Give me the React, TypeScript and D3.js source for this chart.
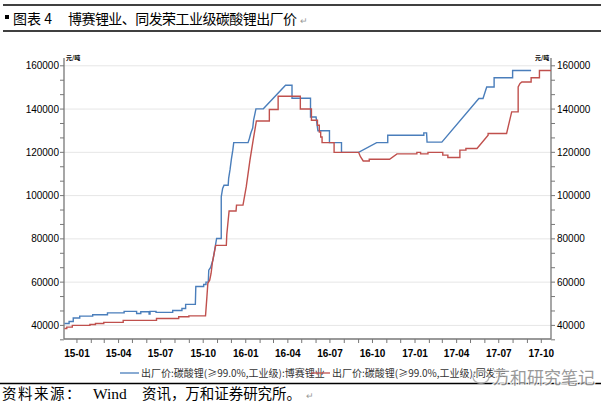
import React from "react";
import * as d3 from "d3";

const TITLE = "图表 4";
const TITLE_TEXT = "博赛锂业、同发荣工业级碳酸锂出厂价";
const SOURCE_PARTS = ["资料来源：", "Wind", "资讯，万和证券研究所。"];
const UNIT = "元/吨";
const SERIES_NAMES = [
  "出厂价:碳酸锂(≥99.0%,工业级):博赛锂业",
  "出厂价:碳酸锂(≥99.0%,工业级):同发荣",
];
const Y_TICKS = [40000, 60000, 80000, 100000, 120000, 140000, 160000];
const X_LABELS = ["15-01", "15-04", "15-07", "15-10", "16-01", "16-04", "16-07", "16-10", "17-01", "17-04", "17-07", "17-10"];

const BOSAI: [string, number][] = [
  ["2014-12-05", 40900], ["2014-12-15", 40900], ["2014-12-15", 41800], ["2014-12-24", 41800],
  ["2014-12-24", 43400], ["2015-01-07", 43400], ["2015-01-07", 44300], ["2015-02-04", 44300],
  ["2015-02-04", 44900], ["2015-03-08", 44900], ["2015-03-08", 45800], ["2015-04-13", 45800],
  ["2015-04-13", 46500], ["2015-05-10", 46500], ["2015-05-10", 45500], ["2015-05-19", 45500],
  ["2015-05-19", 46300], ["2015-06-06", 46300], ["2015-06-06", 45200], ["2015-06-08", 45200],
  ["2015-06-08", 46500], ["2015-06-21", 46500], ["2015-06-21", 46000], ["2015-07-27", 46000],
  ["2015-07-27", 46900], ["2015-08-16", 46900], ["2015-08-16", 47800], ["2015-08-24", 47800],
  ["2015-08-24", 49700], ["2015-09-14", 49700], ["2015-09-15", 58000], ["2015-10-02", 58000],
  ["2015-10-02", 58900], ["2015-10-07", 58900], ["2015-10-07", 60000], ["2015-10-12", 60000],
  ["2015-10-13", 65500], ["2015-10-17", 66800], ["2015-10-22", 70200], ["2015-10-26", 75100],
  ["2015-10-30", 80200], ["2015-11-09", 80200], ["2015-11-09", 99400], ["2015-11-12", 103300],
  ["2015-11-15", 104800], ["2015-11-24", 104800], ["2015-11-25", 108000], ["2015-11-28", 112000],
  ["2015-12-01", 117000], ["2015-12-04", 121000], ["2015-12-06", 124500], ["2016-01-06", 124500],
  ["2016-01-09", 126500], ["2016-01-12", 128900], ["2016-01-16", 131200], ["2016-01-18", 135000],
  ["2016-01-20", 137000], ["2016-01-23", 140100], ["2016-02-08", 140100], ["2016-03-27", 151000],
  ["2016-04-10", 151000], ["2016-04-10", 145000], ["2016-05-20", 145000], ["2016-05-20", 136300],
  ["2016-06-01", 136300], ["2016-06-05", 130000], ["2016-06-30", 130000], ["2016-06-30", 124500],
  ["2016-07-26", 124500], ["2016-07-26", 120000], ["2016-09-01", 120000], ["2016-10-10", 124500],
  ["2016-11-03", 124500], ["2016-11-03", 127900], ["2017-01-20", 127900], ["2017-01-20", 129000],
  ["2017-01-26", 129000], ["2017-01-27", 124700], ["2017-02-28", 124700], ["2017-05-19", 144900],
  ["2017-05-28", 144900], ["2017-06-01", 147500], ["2017-06-05", 150200], ["2017-06-21", 150200],
  ["2017-06-21", 154500], ["2017-07-31", 154500], ["2017-07-31", 157800], ["2017-09-09", 157800],
];

const TONGFARONG: [string, number][] = [
  ["2014-12-05", 38600], ["2014-12-10", 38600], ["2014-12-10", 39200], ["2014-12-22", 39200],
  ["2014-12-22", 40000], ["2015-01-29", 40000], ["2015-01-29", 40400], ["2015-02-10", 40400],
  ["2015-02-10", 40900], ["2015-02-28", 40900], ["2015-02-28", 41400], ["2015-04-11", 41400],
  ["2015-04-11", 42300], ["2015-06-22", 42300], ["2015-06-22", 43200], ["2015-08-09", 43200],
  ["2015-08-09", 44000], ["2015-08-31", 44000], ["2015-08-31", 44400], ["2015-10-06", 44400],
  ["2015-10-09", 53200], ["2015-10-11", 59400], ["2015-10-15", 60900], ["2015-10-18", 64000],
  ["2015-10-21", 69200], ["2015-10-28", 77000], ["2015-11-20", 77000], ["2015-11-21", 82000],
  ["2015-11-24", 88600], ["2015-11-26", 92900], ["2015-12-11", 92900], ["2015-12-12", 95600],
  ["2015-12-26", 95600], ["2016-01-02", 104000], ["2016-01-10", 116300], ["2016-01-17", 125600],
  ["2016-01-24", 134500], ["2016-02-21", 134500], ["2016-02-21", 139800], ["2016-03-11", 139800],
  ["2016-03-11", 145900], ["2016-04-28", 145900], ["2016-04-28", 140000], ["2016-05-22", 140000],
  ["2016-05-22", 134800], ["2016-06-04", 134800], ["2016-06-04", 132500], ["2016-06-08", 132500],
  ["2016-06-08", 129400], ["2016-06-11", 129400], ["2016-06-11", 127100], ["2016-06-14", 127100],
  ["2016-06-14", 124500], ["2016-07-10", 124500], ["2016-07-10", 120000], ["2016-09-01", 120000],
  ["2016-09-05", 118000], ["2016-09-11", 116000], ["2016-09-24", 116000], ["2016-09-24", 116800],
  ["2016-11-07", 116800], ["2016-11-23", 119300], ["2017-01-05", 119300], ["2017-01-05", 120000],
  ["2017-01-13", 120000], ["2017-01-13", 119300], ["2017-01-29", 119300], ["2017-01-29", 120000],
  ["2017-03-02", 120000], ["2017-03-02", 118700], ["2017-03-13", 118700], ["2017-03-13", 117600],
  ["2017-04-08", 117600], ["2017-04-08", 121000], ["2017-04-21", 121000], ["2017-04-21", 121800],
  ["2017-05-15", 121800], ["2017-06-08", 127900], ["2017-06-08", 128700], ["2017-07-18", 128700],
  ["2017-07-29", 138700], ["2017-08-12", 138700], ["2017-08-12", 150200], ["2017-08-16", 151800],
  ["2017-08-20", 152500], ["2017-09-09", 152500], ["2017-09-09", 154500], ["2017-09-27", 154500],
  ["2017-09-27", 157800], ["2017-10-22", 157800],
];

const COLORS = ["#4a7ebb", "#c0504d"];

const parse = d3.timeParse("%Y-%m-%d");

export default function App() {
  const W = 601, H = 406;
  const left = 64, right = 551, axTop = 58, axBottom = 339;
  const x = d3.scaleTime()
    .domain([parse("2014-12-04")!, parse("2017-10-22")!])
    .range([left, right]);
  const y = d3.scaleLinear().domain([40000, 160000]).range([325.4, 65.8]);

  const line = d3.line<[string, number]>()
    .x((d) => x(parse(d[0])!))
    .y((d) => y(d[1]));

  const months = d3.timeMonth.range(parse("2015-01-01")!, parse("2017-10-02")!);
  const quarterDates = X_LABELS.map((l) => parse(`20${l}-01`)!);

  const minorStep = 20000 / 3;
  const minorTicks: number[] = [];
  for (let v = 40000 - minorStep; v <= 160000 + 1; v += minorStep) minorTicks.push(v);

  const axisColor = "#777";
  const numFont = "'Liberation Sans', Arial, sans-serif";
  const cjk = "'Noto Sans CJK SC', sans-serif";
  const serif = "'Liberation Serif', 'Times New Roman', serif";

  return (
    <svg width={W} height={H} style={{ position: "absolute", left: 0, top: 0, background: "#fff" }}>
      {/* title */}
      <line x1={3} x2={601} y1={5} y2={5} stroke="#000" strokeWidth={1.5} />
      <line x1={3} x2={601} y1={31} y2={31} stroke="#000" strokeWidth={1.5} />
      <rect x={5} y={15} width={4} height={4} fill="#000" />
      <text x={13} y={24} fontFamily={cjk} fontSize={14} fill="#000">{TITLE}</text>
      <text x={68} y={24} fontFamily={cjk} fontSize={14} textLength={229} lengthAdjust="spacing" fill="#000">{TITLE_TEXT}</text>
      <text x={300} y={24} fontFamily={cjk} fontSize={9} fill="#999">↵</text>

      {/* gridlines */}
      {Y_TICKS.map((v) => (
        <line key={"g" + v} x1={left} x2={right} y1={y(v)} y2={y(v)} stroke="#e6e6e6" strokeWidth={1} />
      ))}

      {/* axes */}
      <line x1={left} x2={left} y1={axTop} y2={axBottom} stroke={axisColor} strokeWidth={1.3} />
      <line x1={right} x2={right} y1={axTop} y2={axBottom} stroke={axisColor} strokeWidth={1.3} />
      <line x1={left} x2={right} y1={axBottom} y2={axBottom} stroke={axisColor} strokeWidth={1.3} />

      {minorTicks.map((v, i) => (
        <g key={"t" + i}>
          <line x1={left - 4} x2={left} y1={y(v)} y2={y(v)} stroke={axisColor} strokeWidth={1} />
          <line x1={right} x2={right + 4} y1={y(v)} y2={y(v)} stroke={axisColor} strokeWidth={1} />
        </g>
      ))}
      {Y_TICKS.map((v) => (
        <g key={"l" + v}>
          <text x={left - 5} y={y(v) + 3.5} textAnchor="end" fontFamily={numFont} fontSize={10} fill="#000">{v}</text>
          <text x={right + 6} y={y(v) + 3.5} textAnchor="start" fontFamily={numFont} fontSize={10} fill="#000">{v}</text>
        </g>
      ))}
      <text x={66} y={60} fontFamily={cjk} fontSize={6} fontWeight="bold" fill="#000">{UNIT}</text>
      <text x={535} y={60} fontFamily={cjk} fontSize={6} fontWeight="bold" fill="#000">{UNIT}</text>

      {months.map((d, i) => (
        <line key={"m" + i} x1={x(d)} x2={x(d)} y1={axBottom} y2={axBottom + 4} stroke={axisColor} strokeWidth={1} />
      ))}
      {quarterDates.map((d, i) => (
        <text key={"q" + i} x={x(d)} y={357} textAnchor="middle" fontFamily={numFont} fontSize={10} fontWeight="bold" fill="#000">
          {X_LABELS[i]}
        </text>
      ))}

      {/* series */}
      <path d={line(BOSAI) || ""} fill="none" stroke={COLORS[0]} strokeWidth={1.4} />
      <path d={line(TONGFARONG) || ""} fill="none" stroke={COLORS[1]} strokeWidth={1.4} />

      {/* legend */}
      <line x1={120} x2={139} y1={373} y2={373} stroke={COLORS[0]} strokeWidth={1.3} />
      <text x={141} y={377} fontFamily={cjk} fontSize={10} fill="#333">{SERIES_NAMES[0]}</text>
      <line x1={311} x2={330} y1={373} y2={373} stroke={COLORS[1]} strokeWidth={1.3} />
      <text x={332} y={377} fontFamily={cjk} fontSize={10} fill="#333">{SERIES_NAMES[1]}</text>

      {/* source */}
      <line x1={0} x2={601} y1={383.5} y2={383.5} stroke="#000" strokeWidth={1.5} />
      <text x={2} y={399} fontFamily={cjk} fontSize={14.5} letterSpacing={1.5} fill="#000">{SOURCE_PARTS[0]}</text>
      <text x={93} y={399} fontFamily={serif} fontSize={15.5} fill="#000">{SOURCE_PARTS[1]}</text>
      <text x={142} y={399} fontFamily={cjk} fontSize={14.5} textLength={159} lengthAdjust="spacing" fill="#000">{SOURCE_PARTS[2]}</text>
      <text x={306} y={399} fontFamily={cjk} fontSize={9} fill="#999">↵</text>

      {/* watermark */}
      <g opacity={0.85}>
        <ellipse cx={481} cy={377} rx={8} ry={6.5} fill="none" stroke="#aaa" strokeWidth={1.3} />
        <text x={493} y={384} fontFamily={cjk} fontSize={17} fill="#888" stroke="#fff" strokeWidth={2.5} paintOrder="stroke">万和研究笔记</text>
      </g>
    </svg>
  );
}
